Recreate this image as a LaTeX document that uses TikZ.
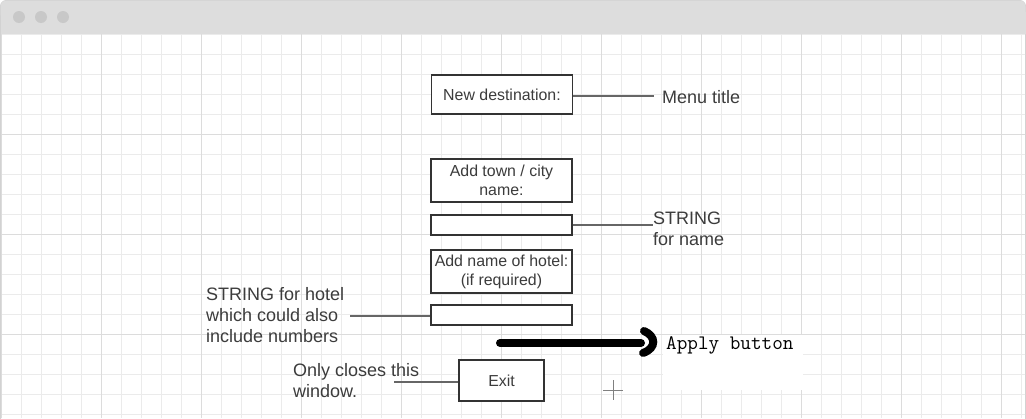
\documentclass[tikz,border=0pt]{standalone}
\usepackage{fontspec}
\setmainfont{Liberation Sans}
\definecolor{barcol}{HTML}{DDDDDD}
\definecolor{dotcol}{HTML}{C8C8C8}
\definecolor{framecol}{HTML}{D2D2D2}
\definecolor{minorcol}{HTML}{EBEBEB}
\definecolor{majorcol}{HTML}{DCDCDC}
\definecolor{txtcol}{HTML}{3C3C3C}
\definecolor{boxline}{HTML}{333333}
\definecolor{linkcol}{HTML}{666666}
\tikzset{
  uibox/.style={draw=boxline, line width=1.2pt, fill=white, inner sep=0pt,
    minimum width=141pt, align=center, text=txtcol,
    font=\fontsize{15.9}{19}\selectfont},
  note/.style={anchor=west, align=left, inner sep=0pt, text=txtcol,
    font=\fontsize{18}{21}\selectfont},
  link/.style={draw=linkcol, line width=1.8pt},
}
\begin{document}
\begin{tikzpicture}[x=1pt,y=-1pt]
\useasboundingbox (0,0) rectangle (1026,418);
% window
\draw[framecol, fill=white, line width=1pt, rounded corners=6] (0.5,0.5) rectangle (1025.5,440);
\fill[barcol, rounded corners=6] (0.5,0.5) rectangle (1025.5,20);
\fill[barcol] (0.5,12) rectangle (1025.5,34);
\foreach \cx in {19,41,63} \fill[dotcol] (\cx,17) circle (6);
% grid
\begin{scope}
\clip (1,34) rectangle (1025,418);
\foreach \gx in {1.3,21.3,...,1030} \draw[minorcol, line width=1pt] (\gx,34) -- (\gx,418);
\foreach \gy in {34,54,...,420} \draw[minorcol, line width=1pt] (0,\gy) -- (1026,\gy);
\foreach \gx in {1.3,101.3,...,1030} \draw[majorcol, line width=1pt] (\gx,34) -- (\gx,418);
\foreach \gy in {134,234,334} \draw[majorcol, line width=1pt] (0,\gy) -- (1026,\gy);
\end{scope}
% boxes
\node[uibox, minimum height=39pt] (title) at (502,94.5) {New destination:};
\node[uibox, minimum height=43pt] (town) at (501.5,180.5) {Add town / city\\name:};
\node[uibox, minimum height=20pt] (namefield) at (501.5,225) {};
\node[uibox, minimum height=43pt] (hotel) at (501.5,271.5) {Add name of hotel:\\(if required)};
\node[uibox, minimum height=20pt] (hotelfield) at (501.5,315) {};
\node[uibox, minimum width=85pt, minimum height=41pt] (exit) at (501.5,380.5) {Exit};
% labels
\node[note] (menulabel) at (662,97) {Menu title};
\node[note] (namelabel) at (653,229) {STRING\\for name};
\node[note] (hotellabel) at (206,315) {STRING for hotel\\which could also\\include numbers};
\node[note] (exitlabel) at (293,380.5) {Only closes this\\window.};
% connectors
\coordinate (menuend) at (654,96);
\coordinate (hotelend) at (350,316);
\coordinate (exitend) at (394,382);
\draw[link] (title.east |- menuend) -- (menuend);
\draw[link] (namefield.east) -- (namefield.east -| namelabel.west);
\draw[link] (hotelfield.west |- hotelend) -- (hotelend);
\draw[link] (exit.west |- exitend) -- (exitend);
% apply arrow
\fill[white] (663,335) rectangle (803,390);
\node[anchor=west, inner sep=0pt, font=\ttfamily\fontsize{20.6}{24}\selectfont] (applylabel) at (666,345) {Apply button};
\coordinate (astart) at (500,343);
\coordinate (aend) at (641,343);
\coordinate (htop) at (644,331);
\coordinate (hbot) at (643,353);
\draw[black, line width=8pt, line cap=round] (astart) -- (aend);
\draw[black, line width=8pt, line cap=round] (htop) .. controls (656,336) and (657,348) .. (hbot);
% cursor
\draw[gray, line width=0.8pt] (603,390) -- (623,390) (613,380) -- (613,400);
\end{tikzpicture}
\end{document}
